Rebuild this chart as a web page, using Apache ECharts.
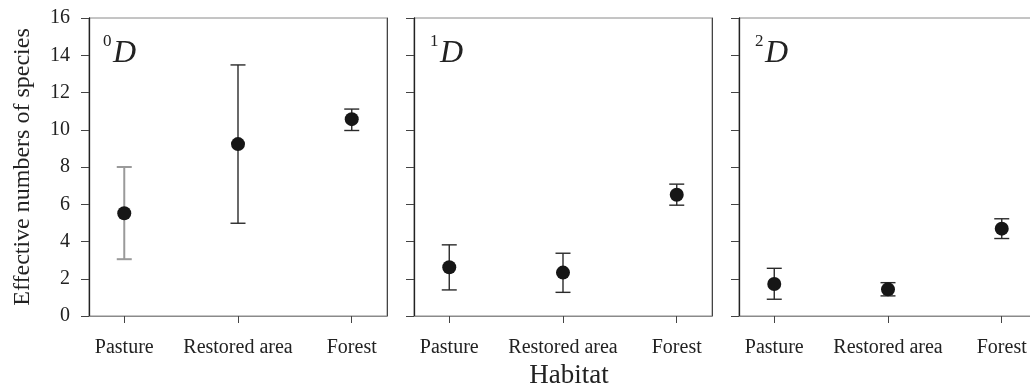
<!DOCTYPE html>
<html>
<head>
<meta charset="utf-8">
<script src="https://cdn.jsdelivr.net/npm/echarts@6/dist/echarts.min.js"></script>
<style>html,body{margin:0;padding:0;background:#fff;}#c{width:1030px;height:392px;}</style>
</head>
<body>
<div id="c"></div>
<script>
// ---- data ----
const categories = ['Pasture', 'Restored area', 'Forest'];
const categoryPos = [1, 2, 3];
const panelOrders = ['0', '1', '2'];
const mean0 = [5.52, 9.23, 10.57];
const low0  = [3.05, 4.98, 9.96];
const high0 = [8.00, 13.48, 11.11];
const mean1 = [2.62, 2.33, 6.51];
const low1  = [1.40, 1.27, 5.95];
const high1 = [3.82, 3.37, 7.08];
const mean2 = [1.72, 1.43, 4.69];
const low2  = [0.90, 1.08, 4.16];
const high2 = [2.56, 1.79, 5.22];
const yTicks = [0, 2, 4, 6, 8, 10, 12, 14, 16];
const yAxisTitle = 'Effective numbers of species';
const xAxisTitle = 'Habitat';

const means = [mean0, mean1, mean2];
const lows = [low0, low1, low2];
const highs = [high0, high1, high2];

// ---- layout ----
const FONT = '"Liberation Serif", "Times New Roman", serif';
const gridLefts = [89, 414, 739];
const gridW = 298, gridTop = 18, gridH = 298;

const grids = [], xAxes = [], yAxes = [], series = [], graphics = [];
for (let p = 0; p < 3; p++) {
  grids.push({left: gridLefts[p], top: gridTop, width: gridW, height: gridH,
    containLabel: false, outerBoundsMode: 'none',
    show: true, borderColor: '#8a8a8a', borderWidth: 1, backgroundColor: 'transparent'});
  xAxes.push({
    type: 'value', gridIndex: p, min: 0.69, max: 3.31,
    splitLine: {show: false},
    axisLine: {show: true, lineStyle: {color: '#8a8a8a', width: 1}},
    axisTick: {show: true, customValues: categoryPos, length: 7, lineStyle: {color: '#444'}},
    axisLabel: {show: true, customValues: categoryPos, margin: 22,
      fontFamily: FONT, fontSize: 20, color: '#222',
      formatter: v => categories[Math.round(v) - 1]},
    name: p === 1 ? xAxisTitle : '', nameLocation: 'middle', nameGap: 38,
    nameTextStyle: {fontFamily: FONT, fontSize: 27, color: '#222', padding: [0, 0, 0, 12]}
  });
  yAxes.push({
    type: 'value', gridIndex: p, min: yTicks[0], max: yTicks[yTicks.length - 1], interval: 2,
    splitLine: {show: false},
    axisLine: {show: true, lineStyle: {color: '#222', width: 1.3}},
    axisTick: {show: true, inside: false, length: 8, lineStyle: {color: '#444'}},
    axisLabel: {show: p === 0, margin: 19, fontFamily: FONT, fontSize: 20, color: '#222'},
    name: p === 0 ? yAxisTitle : '', nameLocation: 'middle', nameGap: 54, nameRotate: 90,
    nameTextStyle: {fontFamily: FONT, fontSize: 24, color: '#222'}
  });
  // right border, darker
  yAxes.push({
    type: 'value', gridIndex: p, position: 'right', min: 0, max: 16,
    splitLine: {show: false}, axisTick: {show: false}, axisLabel: {show: false},
    axisLine: {show: true, lineStyle: {color: '#444', width: 1}}
  });
  const yIdx = p * 2;
  const errData = categoryPos.map((x, i) => [x, lows[p][i], highs[p][i]]);
  series.push({
    type: 'custom', xAxisIndex: p, yAxisIndex: yIdx, z: 2,
    data: errData,
    renderItem: function (params, api) {
      const x = api.value(0);
      const lo = api.coord([x, api.value(1)]);
      const hi = api.coord([x, api.value(2)]);
      const half = 7.5;
      const grey = (p === 0 && params.dataIndex === 0);
      const style = {stroke: grey ? '#9a9a9a' : '#2a2a2a', lineWidth: grey ? 2 : 1.4, fill: null};
      return {type: 'group', children: [
        {type: 'line', shape: {x1: lo[0], y1: lo[1], x2: hi[0], y2: hi[1]}, style: style},
        {type: 'line', shape: {x1: hi[0] - half, y1: hi[1], x2: hi[0] + half, y2: hi[1]}, style: style},
        {type: 'line', shape: {x1: lo[0] - half, y1: lo[1], x2: lo[0] + half, y2: lo[1]}, style: style}
      ]};
    }
  });
  series.push({
    type: 'scatter', xAxisIndex: p, yAxisIndex: yIdx, z: 3,
    symbol: 'circle', symbolSize: 14,
    itemStyle: {color: '#161616', opacity: 1},
    emphasis: {disabled: true},
    data: categoryPos.map((x, i) => [x, means[p][i]])
  });
  // panel label like ⁰D
  graphics.push({type: 'text', left: gridLefts[p] + 14 + (p > 0 ? 2 : 0), top: 33,
    style: {text: panelOrders[p], font: '17px ' + FONT, fill: '#222'}});
  graphics.push({type: 'text', left: gridLefts[p] + 24 + (p > 0 ? 2 : 0), top: 38,
    style: {text: 'D', font: 'italic 32px ' + FONT, fill: '#222'}});
}

const chart = echarts.init(document.getElementById('c'), null, {renderer: 'canvas'});
chart.setOption({
  animation: false,
  backgroundColor: '#fff',
  grid: grids, xAxis: xAxes, yAxis: yAxes, series: series, graphic: graphics
});
</script>
</body>
</html>
